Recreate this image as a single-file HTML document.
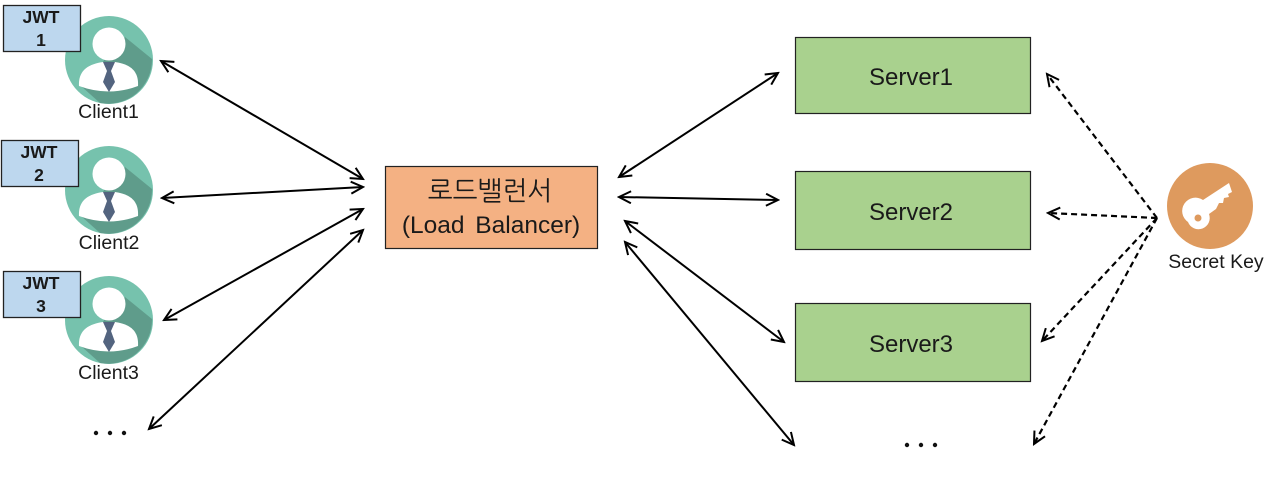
<!DOCTYPE html>
<html><head><meta charset="utf-8"><style>
html,body{margin:0;padding:0;background:#fff;width:1280px;height:491px;overflow:hidden}
svg{display:block}
text{font-family:"Liberation Sans","NanumGothic","Noto Sans CJK KR",sans-serif;fill:#1a1a1a}
</style></head><body>
<svg width="1280" height="491" viewBox="0 0 1280 491" xmlns="http://www.w3.org/2000/svg">
<defs>
<g id="p">
<circle r="44" fill="#76c2ad"/>
<path d="M16 -23 L43 -1 A44 44 0 0 1 -9 43 L-28 26 Z" fill="#5f9c8b"/>
<path d="M-30 26 C-31 10 -20 4 -6 2 L6 2 C20 4 30 10 29 26 Q0 37 -30 26Z" fill="#fff"/>
<circle cy="-16" r="16.5" fill="#fff"/>
<path d="M-6 2 L6 2 L2 11 L6 22 L0 32 L-6 22 L-2 11Z" fill="#53647f"/>
</g>
<marker id="a" markerWidth="16" markerHeight="14" refX="14" refY="7" orient="auto-start-reverse" markerUnits="userSpaceOnUse"><path d="M2 1 L14 7 L2 13" fill="none" stroke="#000" stroke-width="2"/></marker>
</defs>
<use href="#p" x="109" y="60"/><use href="#p" x="109" y="190"/><use href="#p" x="109" y="320"/>
<g stroke="#222" stroke-width="1.3">
<rect x="3.5" y="5.5" width="77" height="46" fill="#bdd7ee"/>
<rect x="1.5" y="140.5" width="77" height="46" fill="#bdd7ee"/>
<rect x="3.5" y="271.5" width="77" height="46" fill="#bdd7ee"/>
</g>
<g font-size="17.5" font-weight="700" text-anchor="middle">
<text x="41" y="23">JWT</text><text x="41" y="46">1</text>
<text x="39" y="158">JWT</text><text x="39" y="181">2</text>
<text x="41" y="289">JWT</text><text x="41" y="312">3</text>
</g>
<g font-size="19.5" text-anchor="middle">
<text x="108.500" y="118">Client1</text><text x="109" y="249">Client2</text><text x="108.500" y="379">Client3</text>
<text x="1216" y="268">Secret Key</text>
</g>
<rect x="385.5" y="166.5" width="212" height="82" fill="#f4b183" stroke="#222" stroke-width="1.2"/>
<text x="490" y="200" font-size="26.5" text-anchor="middle">로드밸런서</text>
<text x="491" y="233" font-size="24.5" text-anchor="middle" word-spacing="4">(Load Balancer)</text>
<g fill="#a9d18e" stroke="#222" stroke-width="1.2">
<rect x="795.5" y="37.5" width="235" height="76"/>
<rect x="795.5" y="171.5" width="235" height="78"/>
<rect x="795.5" y="303.5" width="235" height="78"/>
</g>
<g font-size="24" text-anchor="middle">
<text x="911" y="85">Server1</text><text x="911" y="220">Server2</text><text x="911" y="352">Server3</text>
</g>
<g fill="#111"><circle cx="96" cy="433" r="2.2"/><circle cx="110" cy="433" r="2.2"/><circle cx="124" cy="433" r="2.2"/>
<circle cx="907" cy="445" r="2.2"/><circle cx="921" cy="445" r="2.2"/><circle cx="935" cy="445" r="2.2"/></g>
<g stroke="#000" stroke-width="2" fill="none">
<line x1="161" y1="61" x2="363" y2="179" marker-start="url(#a)" marker-end="url(#a)"/>
<line x1="162" y1="198" x2="363" y2="187" marker-start="url(#a)" marker-end="url(#a)"/>
<line x1="164" y1="320" x2="363" y2="209" marker-start="url(#a)" marker-end="url(#a)"/>
<line x1="149" y1="429" x2="363" y2="230" marker-start="url(#a)" marker-end="url(#a)"/>
<line x1="619" y1="177" x2="778" y2="73" marker-start="url(#a)" marker-end="url(#a)"/>
<line x1="619" y1="197" x2="778" y2="200" marker-start="url(#a)" marker-end="url(#a)"/>
<line x1="625" y1="221" x2="784" y2="342" marker-start="url(#a)" marker-end="url(#a)"/>
<line x1="625" y1="242" x2="794" y2="445" marker-start="url(#a)" marker-end="url(#a)"/>
</g>
<g stroke="#000" stroke-width="2.2" fill="none" stroke-dasharray="6 4">
<line x1="1157" y1="218" x2="1047" y2="74" marker-end="url(#a)"/>
<line x1="1157" y1="218" x2="1048" y2="213" marker-end="url(#a)"/>
<line x1="1157" y1="218" x2="1042" y2="341" marker-end="url(#a)"/>
<line x1="1157" y1="218" x2="1034" y2="444" marker-end="url(#a)"/>
</g>
<circle cx="1210" cy="206" r="43" fill="#de9a5e"/>
<path d="M1188 222 A11 11 0 0 1 1203 200 L1229 183 L1232 192 L1228 194 L1229 197 L1224 198 L1223 203 L1219 203 L1216 209 L1209 214 A11 11 0 0 1 1188 222Z" fill="#fff"/>
<circle cx="1198" cy="218" r="3.5" fill="#de9a5e"/>
</svg>
</body></html>
